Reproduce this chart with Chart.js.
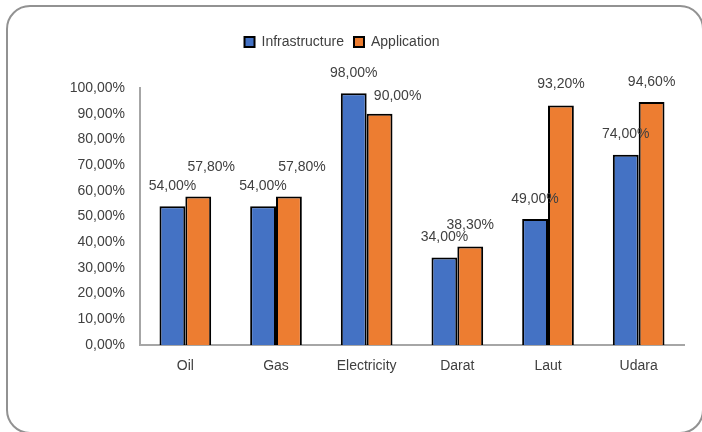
<!DOCTYPE html>
<html>
<head>
<meta charset="utf-8">
<script src="https://cdn.jsdelivr.net/npm/chart.js@4"></script>
<style>
  body { margin: 0; background: #fff; }
  #wrap { position: relative; width: 702px; height: 432px; overflow: hidden; }
  #frame { position: absolute; left: 6px; top: 5px; width: 694px; height: 425px;
           border: 2px solid #929292; border-radius: 24px; }
  #c { position: absolute; left: 0; top: 0; }
</style>
</head>
<body>
<div id="wrap">
  <div id="frame"></div>
  <canvas id="c" width="702" height="432"></canvas>
</div>
<script>
var categories = ["Oil", "Gas", "Electricity", "Darat", "Laut", "Udara"];
var infrastructure = [54.0, 54.0, 98.0, 34.0, 49.0, 74.0];
var application = [57.8, 57.8, 90.0, 38.3, 93.2, 94.6];

// label placement: [dx, height above bar top]
var labelNudge = [
  [[0, 20], [0, 20], [0, 20], [0, 20], [0, 20], [0, 21]],
  [[13, 29], [13, 29], [18, 18], [0, 21], [0, 21], [0, 20]]
];

function pct(v) {
  return v.toFixed(2).replace('.', ',') + '%';
}

var textColor = '#404040';
var fontFamily = '"Liberation Sans", Arial, sans-serif';
var fontSize = 14;

// value labels above each bar
var barLabels = {
  id: 'barLabels',
  afterDatasetsDraw: function(chart) {
    var ctx = chart.ctx;
    ctx.save();
    ctx.font = fontSize + 'px ' + fontFamily;
    ctx.fillStyle = textColor;
    ctx.textAlign = 'center';
    ctx.textBaseline = 'middle';
    chart.data.datasets.forEach(function(ds, i) {
      chart.getDatasetMeta(i).data.forEach(function(bar, j) {
        var n = labelNudge[i][j];
        ctx.fillText(pct(ds.data[j]), bar.x + n[0], bar.y - n[1]);
      });
    });
    ctx.restore();
  }
};

// extra room under the legend
var legendGap = {
  id: 'legendGap',
  beforeInit: function(chart) {
    var fit = chart.legend.fit;
    chart.legend.fit = function() {
      fit.bind(chart.legend)();
      this.height += 29;
    };
  }
};

var ctx = document.getElementById('c').getContext('2d');
var chart = new Chart(ctx, {
  type: 'bar',
  data: {
    labels: categories,
    datasets: [{
        label: 'Infrastructure',
        data: infrastructure,
        backgroundColor: '#4472C4',
        borderColor: '#000000',
        borderWidth: 2,
        borderSkipped: 'bottom'
      },
      {
        label: 'Application',
        data: application,
        backgroundColor: '#ED7D31',
        borderColor: '#000000',
        borderWidth: 2,
        borderSkipped: 'bottom'
      }
    ]
  },
  options: {
    responsive: false,
    animation: false,
    datasets: {
      bar: { categoryPercentage: 0.57, barPercentage: 1.0 }
    },
    layout: { padding: { top: 25, right: 18, left: 0, bottom: 0 } },
    plugins: {
      legend: {
        position: 'top',
        labels: {
          boxWidth: 10,
          boxHeight: 10,
          padding: 10,
          color: textColor,
          font: { family: fontFamily, size: fontSize }
        }
      },
      tooltip: { enabled: false }
    },
    scales: {
      x: {
        grid: { display: false, drawTicks: false },
        border: { color: '#a6a6a6', width: 2 },
        ticks: { color: textColor, padding: 13, font: { family: fontFamily, size: fontSize } },
        afterFit: function(scale) { scale.height = 87; }
      },
      y: {
        min: 0,
        max: 100,
        grid: { display: false, drawTicks: false },
        border: { color: '#a6a6a6', width: 2 },
        ticks: {
          stepSize: 10,
          padding: 15,
          color: textColor,
          font: { family: fontFamily, size: fontSize },
          callback: function(v) { return pct(v); }
        },
        afterFit: function(scale) { scale.width = 140; }
      }
    }
  },
  plugins: [barLabels, legendGap]
});
</script>
</body>
</html>
